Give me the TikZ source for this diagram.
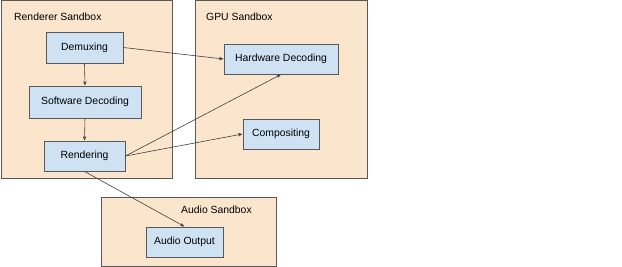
\documentclass[tikz,border=0pt]{standalone}
\usepackage{fontspec}
\setmainfont{Liberation Sans}
\usetikzlibrary{arrows.meta}
\definecolor{sbfill}{HTML}{FCE5CD}
\definecolor{boxfill}{HTML}{CFE2F3}
\definecolor{edge}{HTML}{595959}
\tikzset{
  sandbox/.style={draw=edge, fill=sbfill, line width=0.9pt, anchor=north west, inner sep=0pt},
  stepbox/.style={draw=edge, fill=boxfill, line width=0.9pt, inner sep=0pt, font=\fontsize{10.4}{12}\selectfont},
  sblabel/.style={font=\fontsize{10.4}{12}\selectfont, inner sep=0pt, anchor=west},
  conn/.style={draw=black!75, line width=0.6pt, -{Stealth[length=4.5pt,width=3.5pt]}}
}
\begin{document}
\begin{tikzpicture}[x=1pt,y=-1pt]
\useasboundingbox (0,0) rectangle (622,267);
% sandboxes
\node[sandbox, minimum width=171pt, minimum height=178pt] (rs) at (0.5,0.5) {};
\node[sandbox, minimum width=172pt, minimum height=178pt] (gs) at (195,0.5) {};
\node[sandbox, minimum width=175pt, minimum height=69pt] (as) at (101,197) {};
\node[sblabel] (rsl) at (14,17) {Renderer Sandbox};
\node[sblabel] (gsl) at (206,17) {GPU Sandbox};
\node[sblabel] (asl) at (181,210) {Audio Sandbox};
% boxes
\node[stepbox, minimum width=77pt, minimum height=31pt] (dem) at (84.5,47.5) {Demuxing};
\node[stepbox, minimum width=112pt, minimum height=32pt] (sw) at (85,102) {Software Decoding};
\node[stepbox, minimum width=81pt, minimum height=30pt] (ren) at (84.5,156) {Rendering};
\node[stepbox, minimum width=114pt, minimum height=30pt] (hw) at (281,59) {Hardware Decoding};
\node[stepbox, minimum width=76pt, minimum height=30pt] (comp) at (281,134) {Compositing};
\node[stepbox, minimum width=77pt, minimum height=30pt] (ao) at (184.5,242) {Audio Output};
% connectors
\draw[conn] (dem.east) -- (hw.west);
\draw[conn] (dem.south) -- (sw.north);
\draw[conn] (sw.south) -- (ren.north);
\draw[conn] (ren.east) -- (hw.south);
\draw[conn] (ren.east) -- (comp.west);
\draw[conn] (ren.south) -- (ao.north);
\end{tikzpicture}
\end{document}
